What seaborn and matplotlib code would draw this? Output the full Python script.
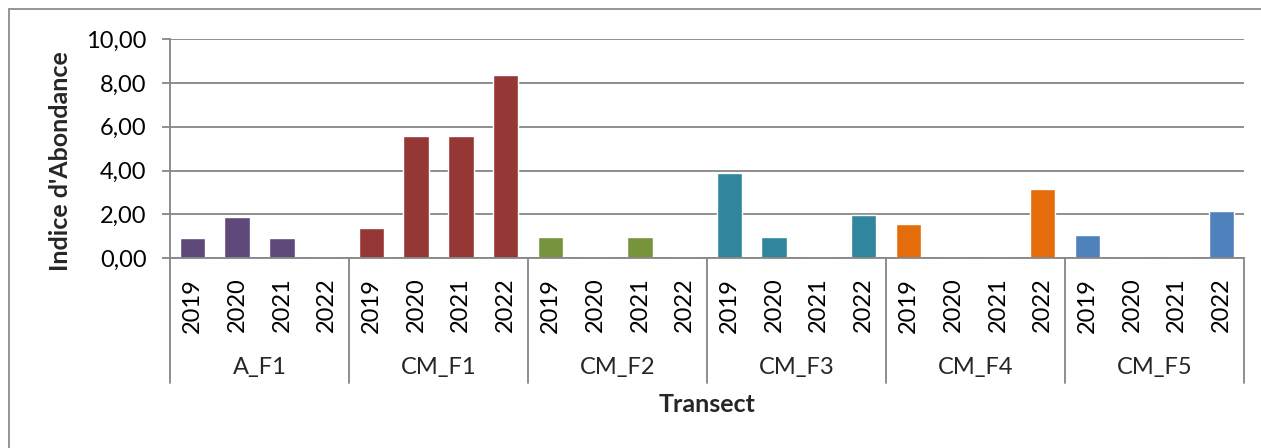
import numpy as np
import pandas as pd
import matplotlib
matplotlib.use("Agg")
import matplotlib.pyplot as plt
import matplotlib.ticker as mticker
import matplotlib.patches as mpatches
import seaborn as sns

# Données
TRANSECTS = ['A_F1', 'CM_F1', 'CM_F2', 'CM_F3', 'CM_F4', 'CM_F5']
YEARS = ['2019', '2020', '2021', '2022']
A_F1 = [0.93, 1.88, 0.93, 0.0]
CM_F1 = [1.38, 5.58, 5.58, 8.36]
CM_F2 = [0.97, 0.0, 0.97, 0.0]
CM_F3 = [3.89, 0.97, 0.0, 1.97]
CM_F4 = [1.56, 0.0, 0.0, 3.16]
CM_F5 = [1.06, 0.0, 0.0, 2.17]
COLORS = ['#5F497A', '#953735', '#77933C', '#31859C', '#E46C0A', '#4F81BD']

values = [A_F1, CM_F1, CM_F2, CM_F3, CM_F4, CM_F5]
rows = []
for t, vals in zip(TRANSECTS, values):
    for y, v in zip(YEARS, vals):
        rows.append({'Transect': t, 'Annee': y, 'cat': f'{t}|{y}', 'Indice': v})
df = pd.DataFrame(rows)
order = df['cat'].tolist()

sns.set_theme(style="white")
plt.rcParams['font.family'] = ['Lato', 'DejaVu Sans']
GRID = '#868686'
FS = 17

W, H = 1261, 448
fig = plt.figure(figsize=(W / 100, H / 100), dpi=100)
ax = fig.add_axes([170 / W, 1 - 258.3 / H, (1244 - 170) / W, (258.3 - 39) / H])

sns.barplot(data=df, x='cat', y='Indice', hue='Transect', order=order,
            hue_order=TRANSECTS, palette=COLORS, dodge=False, width=0.57,
            legend=False, saturation=1, ax=ax)

ax.set_ylim(0, 10)
ax.set_xlim(-0.5, len(order) - 0.5)
ax.set_yticks(np.arange(0, 10.01, 2))
ax.yaxis.set_major_formatter(mticker.FuncFormatter(lambda v, p: f'{v:.2f}'.replace('.', ',')))
ax.yaxis.grid(True, color=GRID, linewidth=1.3)
ax.set_axisbelow(True)

for s in ['top', 'right']:
    ax.spines[s].set_visible(False)
for s in ['left', 'bottom']:
    ax.spines[s].set_color(GRID)
    ax.spines[s].set_linewidth(1.3)

ax.set_xticks(range(len(order)))
ax.set_xticklabels([c.split('|')[1] for c in order], rotation=90, va='top', ha='center')
ax.tick_params(axis='x', length=0, pad=14, labelsize=FS, colors='black')
ax.tick_params(axis='y', length=6, width=1.3, color=GRID, pad=11, labelsize=FS,
               left=True, labelcolor='black')
ax.set_xlabel('')
ax.set_ylabel('')

# axe des catégories à deux niveaux
trans = ax.get_xaxis_transform()
n = len(YEARS)
for i in range(len(TRANSECTS) + 1):
    xb = i * n - 0.5
    ax.plot([xb, xb], [0, -0.569], transform=trans, color=GRID, lw=1.3, clip_on=False)
for i, t in enumerate(TRANSECTS):
    ax.text(i * n + (n - 1) / 2, -0.50, t, transform=trans, ha='center', va='center',
            fontsize=FS)

fig.text(707 / W, 1 - 405 / H, 'Transect', ha='center', va='center',
         fontsize=18, fontweight='bold')
fig.text(60 / W, 1 - 161 / H, "Indice d'Abondance", ha='center', va='center',
         rotation=90, fontsize=18, fontweight='bold')

# cadre du graphique
fig.patches.append(mpatches.Rectangle((9 / W, -0.1), 1.2, 1 - 9 / H + 0.1,
                                      transform=fig.transFigure, fill=False,
                                      edgecolor='#8C8C8C', linewidth=1.3))

fig.savefig('out.png', dpi=100)
